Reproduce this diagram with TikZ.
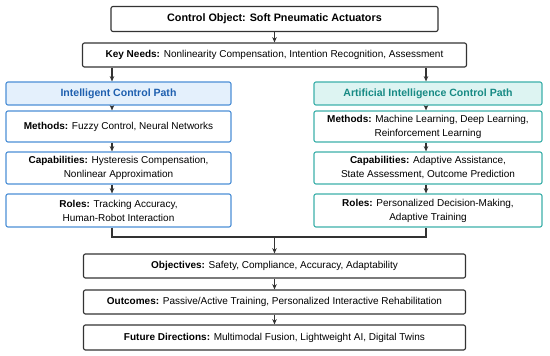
\documentclass[tikz,border=0pt]{standalone}
\usepackage{fontspec}
\setmainfont{Liberation Sans}
\usetikzlibrary{arrows.meta}

\definecolor{icblue}{HTML}{4C8FD6}
\definecolor{icfill}{HTML}{E4F0FC}
\definecolor{ictext}{HTML}{1E5FAF}
\definecolor{aiteal}{HTML}{3DB0AA}
\definecolor{aifill}{HTML}{DDF4F2}
\definecolor{aitext}{HTML}{178A84}
\definecolor{edge}{HTML}{333333}

\newcommand{\hd}[1]{\textbf{#1}}

\begin{document}
\begin{tikzpicture}[x=0.75pt,y=-0.75pt,
        font=\fontsize{7.5}{10.5}\selectfont,
        box/.style={draw=edge, line width=0.85pt, rounded corners=1.5pt, fill=white,
                    minimum height=#1*0.75pt, inner sep=0pt, align=center},
        box/.default=24,
        lbox/.style={box=#1, draw=icblue, minimum width=225*0.75pt},
        rbox/.style={box=#1, draw=aiteal, minimum width=228*0.75pt},
        arr/.style={-{Stealth[length=4pt,width=3.4pt]}, edge, line width=0.85pt}]
    \useasboundingbox (0,0) rectangle (550,356);

    % top of the chart
    \node[box=25, minimum width=327*0.75pt] (obj) at (274.5,19)
        {\fontsize{8.1}{10}\selectfont\hd{Control Object: Soft Pneumatic Actuators}};
    \node[box, minimum width=384*0.75pt] (need) at (274.5,55)
        {\hd{Key Needs:} Nonlinearity Compensation, Intention Recognition, Assessment};

    % the two paths
    \node[lbox=23, fill=icfill] (hl) at (118.5,93.5)
        {\fontsize{7.9}{10}\selectfont\color{ictext}\hd{Intelligent Control Path}};
    \node[lbox=31] (ml) at (118.5,126.5) {\hd{Methods:} Fuzzy Control, Neural Networks};
    \node[lbox=32] (cl) at (118.5,168)
        {\hd{Capabilities:} Hysteresis Compensation,\\ Nonlinear Approximation};
    \node[lbox=33] (rl) at (118.5,210.5)
        {\hd{Roles:} Tracking Accuracy,\\ Human-Robot Interaction};

    \node[rbox=23, fill=aifill] (hr) at (428,93.5)
        {\fontsize{7.9}{10}\selectfont\color{aitext}\hd{Artificial Intelligence Control Path}};
    \node[rbox=31] (mr) at (428,126.5)
        {\hd{Methods:} Machine Learning, Deep Learning,\\ Reinforcement Learning};
    \node[rbox=32] (cr) at (428,168)
        {\hd{Capabilities:} Adaptive Assistance,\\ State Assessment, Outcome Prediction};
    \node[rbox=33] (rr) at (428,210.5)
        {\hd{Roles:} Personalized Decision-Making,\\ Adaptive Training};

    % bottom of the chart
    \node[box, minimum width=382*0.75pt] (goal) at (274.5,266)
        {\hd{Objectives:} Safety, Compliance, Accuracy, Adaptability};
    \node[box, minimum width=382*0.75pt] (outc) at (274.5,302)
        {\hd{Outcomes:} Passive/Active Training, Personalized Interactive Rehabilitation};
    \node[box=25, minimum width=382*0.75pt] (fut) at (274.5,337.5)
        {\hd{Future Directions:} Multimodal Fusion, Lightweight AI, Digital Twins};

    \coordinate (lx) at (112,0);
    \coordinate (rx) at (426,0);
    \coordinate (join) at (274.5,237);

    \draw[arr] (obj) -- (need);
    \foreach \a/\b in {need/hl,hl/ml,ml/cl,cl/rl}
        \draw[arr] (\a.south -| lx) -- (\b.north -| lx);
    \foreach \a/\b in {need/hr,hr/mr,mr/cr,cr/rr}
        \draw[arr] (\a.south -| rx) -- (\b.north -| rx);
    \draw[edge, line width=0.85pt] (rl.south -| lx) |- (join) -| (rr.south -| rx);
    \draw[arr] (join) -- (goal);
    \draw[arr] (goal) -- (outc);
    \draw[arr] (outc) -- (fut);
\end{tikzpicture}
\end{document}
